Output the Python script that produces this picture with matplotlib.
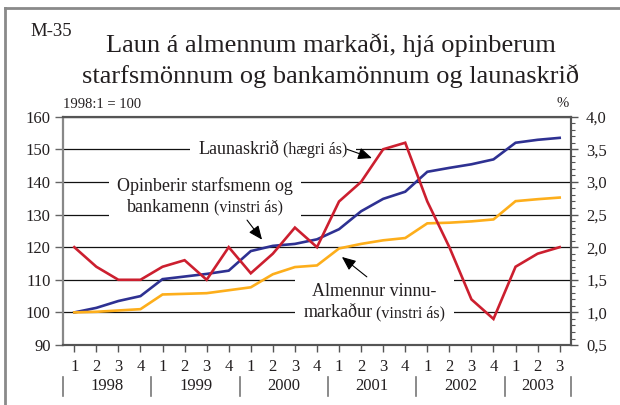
import matplotlib
matplotlib.use("Agg")
import matplotlib.pyplot as plt
import numpy as np
from matplotlib.lines import Line2D
from matplotlib.offsetbox import AnnotationBbox, HPacker, TextArea, VPacker
from matplotlib.ticker import FuncFormatter, MultipleLocator

SERIF = "Liberation Serif"
INK = "#231f20"
plt.rcParams["font.family"] = [SERIF, "DejaVu Serif"]
plt.rcParams["text.color"] = INK

# quarterly data 1998:1 - 2003:3
quarters = ["1", "2", "3", "4"] * 5 + ["1", "2", "3"]
years = ["1998", "1999", "2000", "2001", "2002", "2003"]
year_quarters = [4, 4, 4, 4, 4, 3]

# index, 1998:1 = 100 (left axis)
opinberir = [100, 101.4, 103.5, 105.0, 110.2, 111.0, 111.8, 112.8, 118.8, 120.4,
             121.0, 122.4, 125.5, 131.0, 134.8, 137.0, 143.1, 144.3, 145.4, 146.9,
             152.0, 152.9, 153.5]
almennur = [100, 100.2, 100.6, 101.0, 105.5, 105.7, 105.9, 106.8, 107.7, 111.7,
            113.9, 114.4, 119.6, 121.0, 122.1, 122.8, 127.3, 127.5, 127.9, 128.5,
            134.1, 134.7, 135.2]
# wage drift, % (right axis)
launaskrid = [2.0, 1.7, 1.5, 1.5, 1.7, 1.8, 1.5, 2.0, 1.6, 1.9, 2.3, 2.0,
              2.7, 3.0, 3.5, 3.6, 2.7, 2.0, 1.2, 0.9, 1.7, 1.9, 2.0]

RED = "#cc1f2f"
BLUE = "#2e3192"
ORANGE = "#fdae1b"

fig = plt.figure(figsize=(6.2, 4.05), dpi=100)
ax = fig.add_axes([0.102, 0.148, 0.8185, 0.564])
ax2 = ax.twinx()

x = np.arange(len(quarters))
ax.plot(x, opinberir, color=BLUE, lw=1.9, zorder=4, solid_joinstyle="miter")
ax.plot(x, almennur, color=ORANGE, lw=1.9, zorder=4, solid_joinstyle="miter")
ax2.plot(x, launaskrid, color=RED, lw=1.9, zorder=4, solid_joinstyle="miter")

ax.set_xlim(-0.5, len(quarters) - 0.5)
ax.set_ylim(90, 160)
ax2.set_ylim(0.5, 4.0)

ax.yaxis.set_major_locator(MultipleLocator(10))
ax2.yaxis.set_major_locator(MultipleLocator(0.5))
ax2.yaxis.set_minor_locator(MultipleLocator(0.1))
ax2.yaxis.set_major_formatter(FuncFormatter(lambda v, _: f"{v:.1f}".replace(".", ",")))

ax.set_xticks(x)
ax.set_xticklabels(quarters)

ax.set_axisbelow(True)
ax.yaxis.grid(True, color="#111111", lw=0.9)

for sp in ("top", "bottom", "right"):
    ax.spines[sp].set_color("#555555")
    ax.spines[sp].set_linewidth(1.5)
    ax2.spines[sp].set_color("#555555")
    ax2.spines[sp].set_linewidth(1.5)
ax.spines["left"].set_color("#888888")
ax.spines["left"].set_linewidth(1.6)
ax2.spines["left"].set_visible(False)

ax.tick_params(axis="y", direction="out", length=6, width=1, color="#666666",
               labelsize=12, pad=3, labelcolor=INK)
ax.tick_params(axis="x", direction="out", length=5, width=1, color="#555555",
               labelsize=12, pad=5, labelcolor=INK)
ax2.tick_params(axis="y", which="major", direction="out", length=5, width=1,
                color="#555555", labelsize=12, pad=6, labelcolor=INK)
ax2.tick_params(axis="y", which="minor", direction="out", length=3, width=0.8,
                color="#555555")

# year labels and separators under the quarter numbers
xt = ax.get_xaxis_transform()
edges = np.concatenate([[0], np.cumsum(year_quarters)]) - 0.5
for e in edges:
    ax.plot([e, e], [-0.139, -0.222], transform=xt, color="#777777", lw=1.2,
            clip_on=False)
for yr, a, b in zip(years, edges[:-1], edges[1:]):
    ax.text((a + b) / 2, -0.178, yr, transform=xt, ha="center", va="center",
            fontsize=12)


def label_box(rows, xy):
    packed = []
    for big, small in rows:
        parts = [TextArea(big, textprops=dict(fontsize=13, color=INK))]
        if small:
            parts.append(TextArea(small, textprops=dict(fontsize=11.5, color=INK)))
        packed.append(HPacker(children=parts, align="baseline", pad=0, sep=3))
    box = VPacker(children=packed, align="center", pad=0, sep=3)
    ab = AnnotationBbox(box, xy, xycoords="data", frameon=True, pad=0.6,
                        bboxprops=dict(fc="white", ec="none"), zorder=3)
    ax.add_artist(ab)


def arrow(start, end):
    ax.annotate("", xy=end, xytext=start, xycoords="data", zorder=5,
                arrowprops=dict(arrowstyle="-|>,head_length=0.7,head_width=0.3",
                                mutation_scale=12, color="black", lw=0.8,
                                shrinkA=0, shrinkB=0))


label_box([("Launaskrið", "(hægri ás)")], (9.0, 150))
label_box([("Opinberir starfsmenn og", None), ("bankamenn", "(vinstri ás)")],
          (5.93, 135.6))
label_box([("Almennur vinnu-", None), ("markaður", "(vinstri ás)")], (13.6, 103.2))

arrow((12.36, 150), (13.49, 147.3))
arrow((7.83, 128.3), (8.51, 122.3))
arrow((13.26, 110.9), (12.13, 117.0))

# titles and axis notes
fig.text(0.0495, 0.911, "M-35", fontsize=13.5, va="baseline", ha="left")
fig.text(0.533, 0.872, "Laun á almennum markaði, hjá opinberum", fontsize=19,
         ha="center", va="baseline")
fig.text(0.533, 0.794, "starfsmönnum og bankamönnum og launaskrið", fontsize=19,
         ha="center", va="baseline")
fig.text(0.101, 0.733, "1998:1 = 100", fontsize=10.5, ha="left", va="baseline")
fig.text(0.917, 0.737, "%", fontsize=10.5, ha="right", va="baseline")

# page frame (top and left edges)
fig.add_artist(Line2D([5 / 620, 1], [1 - 8 / 405] * 2, color="#8a8a8a", lw=2))
fig.add_artist(Line2D([5 / 620] * 2, [0, 1 - 8 / 405], color="#8a8a8a", lw=2))

fig.savefig("out.png", dpi=100)
